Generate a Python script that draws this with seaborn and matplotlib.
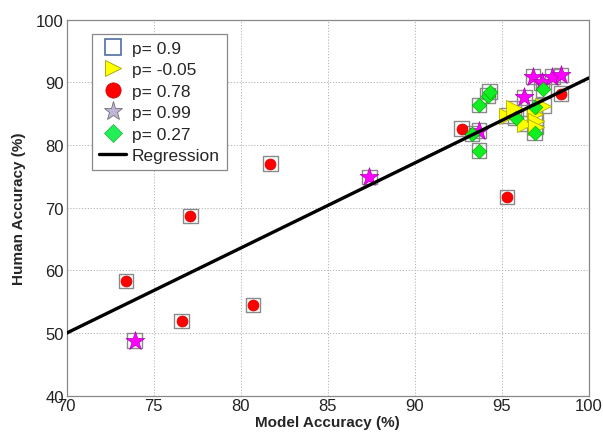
import numpy as np
import pandas as pd
import matplotlib
matplotlib.use("Agg")
import matplotlib.pyplot as plt
from matplotlib.lines import Line2D
import seaborn as sns

# ---- data ----
red_x = [73.4, 76.6, 77.1, 80.7, 81.7, 92.7, 95.3, 98.4]
red_y = [58.3, 51.9, 68.7, 54.5, 77.0, 82.6, 71.7, 88.2]

star_x = [73.9, 87.4, 93.7, 96.3, 96.8, 97.3, 97.9, 98.4]
star_y = [48.8, 74.9, 82.3, 87.6, 90.9, 90.0, 90.9, 91.2]

green_x = [93.3, 93.7, 93.7, 94.2, 94.3, 95.8, 96.9, 96.9, 97.4]
green_y = [81.8, 79.1, 86.4, 87.9, 88.5, 84.3, 86.0, 82.0, 88.9]

yellow_x = [95.3, 95.7, 96.35, 96.9, 96.95, 96.95, 97.4]
yellow_y = [84.7, 85.9, 83.4, 85.0, 83.9, 82.9, 86.3]

reg_x = [70, 100]
reg_y = [50.0, 90.7]

labels = ["p= 0.9", "p= -0.05", "p= 0.78", "p= 0.99", "p= 0.27", "Regression"]
x_ticks = [70, 75, 80, 85, 90, 95, 100]
y_ticks = [40, 50, 60, 70, 80, 90, 100]

sq_x = red_x + star_x + green_x + yellow_x
sq_y = red_y + star_y + green_y + yellow_y

sns.set_style("white")
plt.rcParams['font.family'] = ['Liberation Sans', 'DejaVu Sans']

fig = plt.figure(figsize=(6.03, 4.35), dpi=100)
ax = fig.add_axes([0.1106, 0.088, 0.8657, 0.8644])

ax.set_axisbelow(True)
grid_kw = dict(color='#b4b4b4', lw=0.7, ls=(0, (1.2, 1.8)), zorder=0)
for v in x_ticks[1:]:
    ax.axvline(v, **grid_kw)
for v in y_ticks[1:]:
    ax.axhline(v, **grid_kw)

sns.lineplot(x=reg_x, y=reg_y, ax=ax, color='black', lw=2.4, zorder=5)

sns.scatterplot(x=sq_x, y=sq_y, ax=ax, marker='s', s=112, facecolor='none',
                edgecolor='#8a8a8a', linewidth=1.0, zorder=2)
sns.scatterplot(x=yellow_x, y=yellow_y, ax=ax, marker='>', s=135, color='#ffff00',
                edgecolor='#b0b000', linewidth=0.6, zorder=3)
sns.scatterplot(x=red_x, y=red_y, ax=ax, marker='o', s=62, color='#ff0000',
                edgecolor='#cc0000', linewidth=0.5, zorder=3)
sns.scatterplot(x=star_x, y=star_y, ax=ax, marker='*', s=200, color='#ff00ff',
                edgecolor='#b000b0', linewidth=0.5, zorder=3)
sns.scatterplot(x=green_x, y=green_y, ax=ax, marker='D', s=55, color='#11ee22',
                edgecolor='#00b000', linewidth=0.5, zorder=3)

ax.set_xlim(70, 100)
ax.set_ylim(40, 100)
ax.set_xticks(x_ticks)
ax.set_yticks(y_ticks)
ax.tick_params(direction='in', length=4, width=0.8, color='#888888',
               labelsize=12, pad=2, labelcolor='#222222')
for s in ax.spines.values():
    s.set_color('#888888')
    s.set_linewidth(0.9)

ax.set_xlabel("Model Accuracy (%)", fontsize=11, fontweight='bold', labelpad=1)
ax.set_ylabel("Human Accuracy (%)", fontsize=11, fontweight='bold', labelpad=7)

handles = [
    Line2D([], [], ls='none', marker='s', ms=11, mfc='white', mec='#4f70a0', mew=1.2),
    Line2D([], [], ls='none', marker='>', ms=12, mfc='#ffff00', mec='#a0a000', mew=0.6),
    Line2D([], [], ls='none', marker='o', ms=11, mfc='#ff0000', mec='#cc0000', mew=0.5),
    Line2D([], [], ls='none', marker='*', ms=14, mfc='#c0b4d8', mec='#707070', mew=0.6),
    Line2D([], [], ls='none', marker='D', ms=9, mfc='#22ee55', mec='#20b040', mew=0.5),
    Line2D([], [], color='black', lw=2.4),
]
leg = ax.legend(handles, labels, loc='upper left', bbox_to_anchor=(0.048, 0.962),
                borderaxespad=0, fontsize=12.5, frameon=True, fancybox=False,
                handlelength=1.6, handletextpad=0.3, labelspacing=0.36,
                borderpad=0.4, framealpha=1)
leg.get_frame().set_edgecolor('#888888')
leg.get_frame().set_linewidth(0.9)

fig.savefig("out.png", dpi=100)
